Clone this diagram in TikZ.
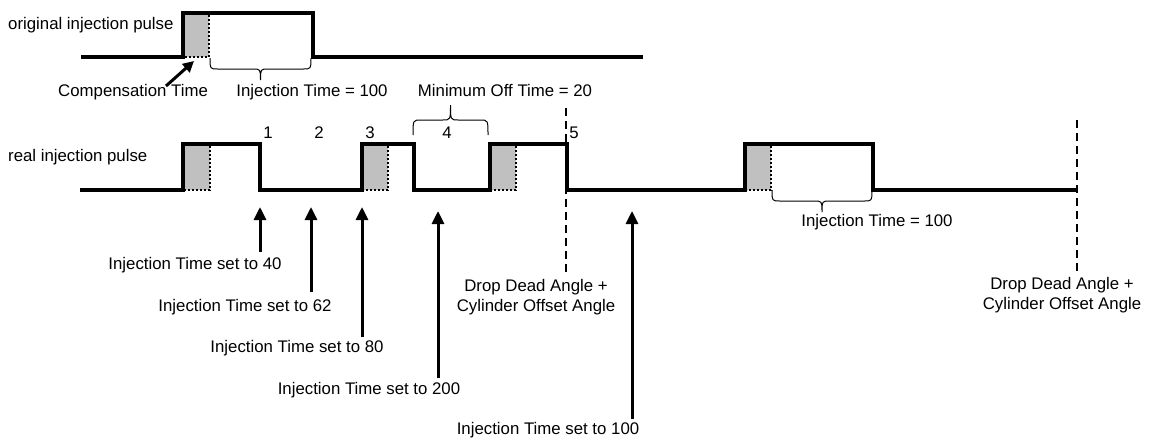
\documentclass[tikz,border=0pt]{standalone}
\usepackage{fontspec}
\setmainfont{Liberation Sans}
\usetikzlibrary{arrows.meta}
\definecolor{compgray}{RGB}{192,192,192}
\newcommand\mybracedown[4]{% a b y0 h
  \pgfmathsetmacro\bm{(#1+#2)/2}
  \draw[bracestyle] (#1,#3) .. controls (#1,#3+#4/2) .. (#1+8,#3+#4/2) -- (\bm-8,#3+#4/2)
    .. controls (\bm,#3+#4/2) .. (\bm,#3+#4) .. controls (\bm,#3+#4/2) .. (\bm+8,#3+#4/2)
    -- (#2-8,#3+#4/2) .. controls (#2,#3+#4/2) .. (#2,#3);}
\newcommand\mybraceup[4]{% a b y0 h
  \pgfmathsetmacro\bm{(#1+#2)/2}
  \draw[bracestyle] (#1,#3) .. controls (#1,#3-#4/2) .. (#1+8,#3-#4/2) -- (\bm-8,#3-#4/2)
    .. controls (\bm,#3-#4/2) .. (\bm,#3-#4) .. controls (\bm,#3-#4/2) .. (\bm+8,#3-#4/2)
    -- (#2-8,#3-#4/2) .. controls (#2,#3-#4/2) .. (#2,#3);}
\begin{document}
\begin{tikzpicture}[x=1pt,y=-1pt,
  every node/.style={font=\fontsize{16.8}{20}\selectfont, inner sep=0pt},
  pulse/.style={line width=4pt, line join=miter, line cap=butt},
  compbox/.style={fill=compgray, draw=none},
  compedge/.style={line width=2pt, dotted, black},
  bracestyle/.style={line width=1pt},
  setarrow/.style={line width=3pt, -{Triangle[width=12pt,length=13pt]}},
  ddline/.style={line width=2.5pt, dash pattern=on 8pt off 5pt},
  lbl/.style={align=center}]
\useasboundingbox (0,0) rectangle (1149,440);

% ---------- original injection pulse ----------
\fill[compbox] (183,13) rectangle (209,57);
\draw[compedge] (209,15) -- (209,57) -- (185,57);
\draw[pulse] (81,57) -- (183,57) -- (183,13) -- (313,13) -- (313,57) -- (643,57);
\node[anchor=west] (origlbl) at (8,25) {original injection pulse};
\mybracedown{210}{311}{58}{22}
\node (injtop) at (312,92) {Injection Time = 100};
\node[anchor=west] (comp) at (58,92) {Compensation Time};
\coordinate (compfrom) at (166,86);
\coordinate (compto) at (194,61);
\draw[line width=3pt, -{Triangle[width=11pt,length=11pt]}] (compfrom) -- (compto);

% ---------- real injection pulse ----------
\foreach \xa/\xb in {183/210,362/388,490/516,745/771}{
  \fill[compbox] (\xa,144) rectangle (\xb,190);
  \draw[compedge] (\xb,146) -- (\xb,190) -- (\xa+2,190);
}
\draw[pulse] (80,190) -- (183,190) -- (183,144) -- (260,144) -- (260,190)
  -- (362,190) -- (362,144) -- (414,144) -- (414,190)
  -- (490,190) -- (490,144) -- (567,144) -- (567,190)
  -- (745,190) -- (745,144) -- (873,144) -- (873,190) -- (1077,190);
\node[anchor=west] (reallbl) at (8,157) {real injection pulse};

\node (n1) at (268,133) {1};
\node (n2) at (319,133) {2};
\node (n3) at (370,133) {3};
\node (n4) at (447,133) {4};
\node (n5) at (574,133) {5};

\mybraceup{413}{488}{135}{30}
\node (minoff) at (505,90) {Minimum Off Time = 20};

\mybracedown{772}{872}{190}{22}
\node (injlow) at (877,222) {Injection Time = 100};

% drop dead angle lines
\coordinate (dd1top) at (566,108);
\coordinate (dd1bot) at (566,272);
\draw[ddline] (dd1top) -- (dd1bot);
\node[lbl] (dd1) at (536,297) {Drop Dead Angle +\\Cylinder Offset Angle};
\coordinate (dd2top) at (1077,120);
\coordinate (dd2bot) at (1077,272);
\draw[ddline] (dd2top) -- (dd2bot);
\node[lbl] (dd2) at (1062,295) {Drop Dead Angle +\\Cylinder Offset Angle};

% set arrows
\node (s40) at (195,265) {Injection Time set to 40};
\node (s62) at (245,307) {Injection Time set to 62};
\node (s80) at (297,348) {Injection Time set to 80};
\node (s200) at (369,390) {Injection Time set to 200};
\node (s100) at (548,430) {Injection Time set to 100};
\coordinate (a1f) at (260,252); \coordinate (a1t) at (260,207);
\coordinate (a2f) at (311,292); \coordinate (a2t) at (311,207);
\coordinate (a3f) at (362,337); \coordinate (a3t) at (362,207);
\coordinate (a4f) at (438,378); \coordinate (a4t) at (438,211);
\coordinate (a5f) at (632,419); \coordinate (a5t) at (632,211);
\draw[setarrow] (a1f) -- (a1t);
\draw[setarrow] (a2f) -- (a2t);
\draw[setarrow] (a3f) -- (a3t);
\draw[setarrow] (a4f) -- (a4t);
\draw[setarrow] (a5f) -- (a5t);
\end{tikzpicture}
\end{document}
